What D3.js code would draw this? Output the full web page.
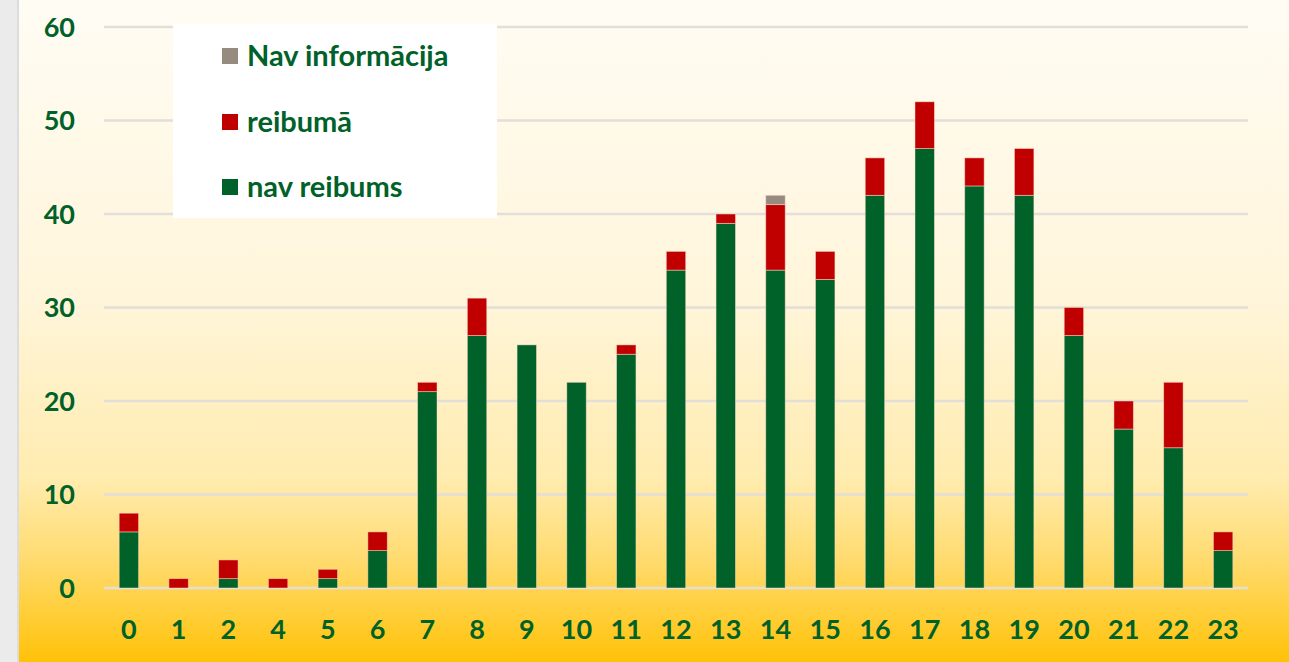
<!DOCTYPE html>
<html>
<head>
<meta charset="utf-8">
<script src="https://cdn.jsdelivr.net/npm/d3@7"></script>
<style>
  html, body { margin: 0; padding: 0; background: #ebebeb; }
  #chart { width: 1289px; height: 662px; }
  text { font-family: Lato, "Open Sans", sans-serif; font-weight: bold; }
</style>
</head>
<body>
<div id="chart"></div>
<script>
// stundas (bez 3)
const hours = ["0","1","2","4","5","6","7","8","9","10","11","12","13","14","15","16","17","18","19","20","21","22","23"];
const navReibums = [6,0,1,0,1,4,21,27,26,22,25,34,39,34,33,42,47,43,42,27,17,15,4];
const reibuma    = [2,1,2,1,1,2,1,4,0,0,1,2,1,7,3,4,5,3,5,3,3,7,2];
const navInfo    = [0,0,0,0,0,0,0,0,0,0,0,0,0,1,0,0,0,0,0,0,0,0,0];
const yTicks = [0,10,20,30,40,50,60];

const seriesNames = ["nav reibums", "reibumā", "Nav informācija"];
const colors = { "nav reibums": "#006129", "reibumā": "#c00000", "Nav informācija": "#978b80" };

const rows = hours.map((h, i) => ({
  hour: h,
  "nav reibums": navReibums[i],
  "reibumā": reibuma[i],
  "Nav informācija": navInfo[i]
}));

const W = 1289, H = 662;
const svg = d3.select("#chart").append("svg")
    .attr("width", W)
    .attr("height", H);

// background gradient
const defs = svg.append("defs");
const grad = defs.append("linearGradient")
    .attr("id", "bg")
    .attr("x1", 0).attr("y1", 0).attr("x2", 0).attr("y2", 1);
[[0, "#fffcf4"], [0.45, "#fff5da"], [0.72, "#ffecb0"], [0.84, "#ffdc72"], [1, "#ffc208"]]
  .forEach(s => grad.append("stop").attr("offset", s[0]).attr("stop-color", s[1]));

svg.append("rect").attr("x", 0).attr("y", 0).attr("width", 18).attr("height", H).attr("fill", "#ebebeb");
svg.append("rect").attr("x", 17).attr("y", 0).attr("width", 2).attr("height", H).attr("fill", "#dcdcdc");
svg.append("rect").attr("x", 19).attr("y", 0).attr("width", W - 19).attr("height", H).attr("fill", "url(#bg)");

const plot = { left: 104, right: 1248, top: 27, bottom: 588 };

const x = d3.scaleBand()
    .domain(hours)
    .range([plot.left, plot.right])
    .paddingInner(0.61)
    .paddingOuter(0.305);

const y = d3.scaleLinear()
    .domain([0, 60])
    .range([plot.bottom, plot.top]);

// gridlines
svg.append("g")
  .selectAll("line")
  .data(yTicks)
  .enter()
  .append("line")
    .attr("x1", plot.left)
    .attr("x2", plot.right)
    .attr("y1", d => y(d))
    .attr("y2", d => y(d))
    .attr("stroke", "#e2ded9")
    .attr("stroke-width", 2.5);

// y labels
svg.append("g")
  .selectAll("text")
  .data(yTicks)
  .enter()
  .append("text")
    .attr("x", 75)
    .attr("y", d => y(d))
    .attr("dy", "0.36em")
    .attr("text-anchor", "end")
    .attr("fill", "#006129")
    .style("font-size", "27px")
    .text(d => d);

// x labels
svg.append("g")
  .selectAll("text")
  .data(hours)
  .enter()
  .append("text")
    .attr("x", d => x(d) + x.bandwidth() / 2)
    .attr("y", 639)
    .attr("text-anchor", "middle")
    .attr("fill", "#006129")
    .style("font-size", "27px")
    .text(d => d);

// stacked bars
const stack = d3.stack().keys(seriesNames)(rows);
svg.append("g")
  .selectAll("g")
  .data(stack)
  .enter()
  .append("g")
    .attr("fill", d => colors[d.key])
  .selectAll("rect")
  .data(d => d.filter(p => p[1] > p[0]))
  .enter()
  .append("rect")
    .attr("x", d => x(d.data.hour))
    .attr("y", d => y(d[1]))
    .attr("width", x.bandwidth())
    .attr("height", d => y(d[0]) - y(d[1]))
    .attr("stroke", "rgba(255,220,200,0.6)")
    .attr("stroke-width", 0.8);

// legend
const legend = svg.append("g");
legend.append("rect")
    .attr("x", 173).attr("y", 24)
    .attr("width", 324).attr("height", 194)
    .attr("fill", "#ffffff");

const legendItems = ["Nav informācija", "reibumā", "nav reibums"];
const legendY = [56, 122, 187];
legendItems.forEach((name, i) => {
  legend.append("rect")
      .attr("x", 222).attr("y", legendY[i] - 8)
      .attr("width", 16).attr("height", 16)
      .attr("fill", colors[name]);
  legend.append("text")
      .attr("x", 247).attr("y", legendY[i])
      .attr("dy", "0.36em")
      .attr("fill", "#006129")
      .style("font-size", "29px")
      .text(name);
});
</script>
</body>
</html>
